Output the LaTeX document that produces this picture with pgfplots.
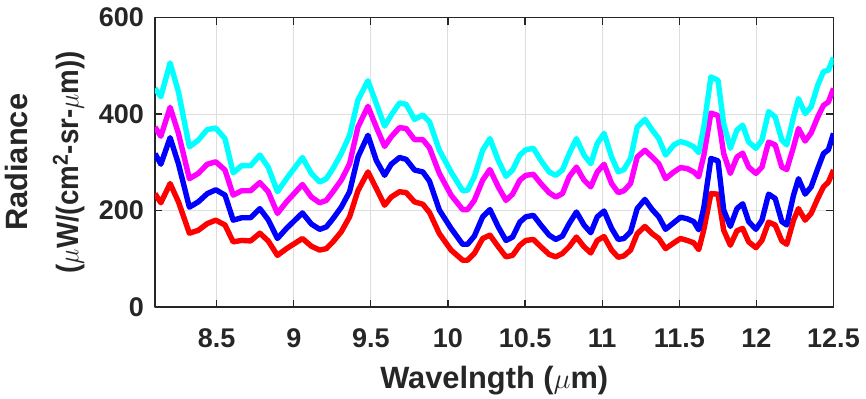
\documentclass[border=0pt]{standalone}
\usepackage{fontspec}
\setmainfont{Liberation Sans}
\usepackage{graphicx}
\usepackage{pgfplots}
\usepackage{pgfplotstable}
\pgfplotsset{compat=1.18}
\definecolor{axgray}{rgb}{0.15,0.15,0.15}
\definecolor{gridgray}{rgb}{0.87,0.87,0.87}
\definecolor{mred}{rgb}{1,0,0}
\definecolor{mblue}{rgb}{0,0,1}
\definecolor{mmag}{rgb}{1,0,1}
\definecolor{mcyan}{rgb}{0,1,1}
\pgfplotstableread{
x red blue mag cyan
8.100 235 318 373 453
8.138 216 296 354 436
8.198 256 351 414 506
8.252 218 297 360 446
8.323 153 207 266 332
8.381 159 218 277 346
8.439 173 235 296 368
8.494 180 243 301 371
8.554 170 232 284 349
8.607 135 180 232 278
8.662 138 185 241 293
8.720 137 185 241 293
8.780 153 204 258 315
8.834 137 181 239 290
8.894 107 142 194 239
8.953 121 163 218 266
9.056 142 195 254 310
9.114 126 172 228 277
9.168 118 161 216 259
9.211 121 166 221 266
9.254 135 183 239 287
9.308 156 207 263 318
9.362 187 239 297 356
9.416 241 311 373 429
9.481 280 356 416 469
9.535 246 304 373 422
9.589 211 273 333 375
9.632 228 296 353 398
9.686 239 310 372 423
9.729 237 306 370 420
9.783 218 284 347 389
9.837 213 280 347 398
9.880 196 261 330 384
9.944 152 201 277 325
10.020 118 163 232 280
10.095 97 130 202 241
10.127 97 130 202 242
10.171 111 147 221 270
10.225 142 187 263 325
10.272 149 202 285 349
10.326 125 166 249 304
10.376 104 138 221 271
10.419 107 145 234 284
10.466 128 176 263 315
10.505 138 187 273 326
10.554 140 190 275 329
10.602 125 170 256 304
10.656 109 149 237 280
10.699 104 140 228 273
10.742 111 147 235 284
10.786 125 173 270 318
10.833 145 197 290 349
10.882 125 170 263 315
10.926 112 154 249 297
10.968 138 187 280 339
11.012 146 199 296 360
11.061 118 163 256 311
11.104 103 140 237 280
11.141 106 142 241 285
11.184 118 156 256 308
11.227 152 204 311 373
11.277 167 223 325 389
11.324 152 202 311 367
11.367 142 187 297 349
11.411 121 161 266 315
11.465 133 175 280 336
11.508 142 186 289 343
11.551 138 183 287 339
11.594 133 177 280 332
11.626 119 160 270 320
11.659 160 206 314 373
11.705 235 308 402 477
11.751 234 303 397 470
11.788 159 201 318 380
11.831 128 167 277 329
11.874 158 204 311 367
11.911 163 214 319 377
11.950 135 177 290 342
11.997 123 161 277 329
12.036 138 180 290 346
12.079 176 234 342 405
12.122 170 225 336 394
12.165 137 177 290 346
12.197 130 170 285 336
12.241 180 232 332 394
12.273 204 266 370 432
12.316 180 234 344 401
12.355 194 249 361 415
12.398 225 287 394 460
12.435 249 318 418 488
12.467 259 326 425 491
12.500 284 360 453 517
}\radtable
\begin{document}
\begin{tikzpicture}
\useasboundingbox (-77.5pt,-46pt) rectangle (355.5pt,153.5pt);
\begin{axis}[
  at={(0pt,0pt)}, anchor=south west,
  scale only axis, width=339.25pt, height=144.7pt,
  xmin=8.1, xmax=12.5, ymin=0, ymax=600,
  xtick={8.5,9,...,12.5}, ytick={0,200,400,600},
  xticklabels={8.5,9,9.5,10,10.5,11,11.5,12,12.5},
  yticklabels={0,200,400,600},
  tick align=inside, major tick length=3.5pt,
  grid=major,
  grid style={gridgray, line width=0.5pt},
  axis line style={axgray, line width=0.6pt},
  every tick/.style={axgray, line width=0.6pt},
  tick label style={font=\fontsize{13.5}{16}\selectfont\bfseries, text=axgray},
  xticklabel style={yshift=-7.5pt},
  yticklabel style={xshift=-2pt},
  xlabel={Wavelngth ($\mu$m)},
  ylabel={Radiance\\\scalebox{0.9}[1]{($\mu$W/(cm\textsuperscript{2}-sr-$\mu$m))}},
  label style={font=\fontsize{15.4}{25.5}\selectfont\bfseries, text=axgray},
  ylabel style={align=center, at={(axis description cs:-0.093,0.5)}, anchor=south},
  xlabel style={at={(axis description cs:0.5,-0.18)}, anchor=north},
  line join=round,
]
\addplot[mred, line width=2.7pt] table[x=x,y=red] {\radtable};
\addplot[mblue, line width=2.7pt] table[x=x,y=blue] {\radtable};
\addplot[mmag, line width=2.7pt] table[x=x,y=mag] {\radtable};
\addplot[mcyan, line width=2.7pt] table[x=x,y=cyan] {\radtable};
\end{axis}
\end{tikzpicture}
\end{document}
